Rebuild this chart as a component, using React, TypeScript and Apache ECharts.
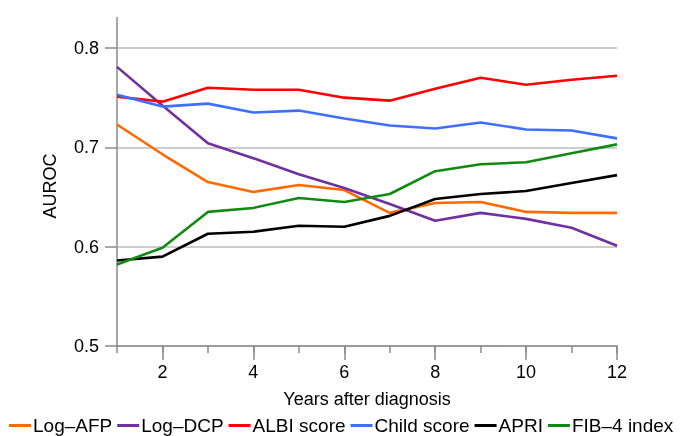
import React, { useEffect, useRef } from "react";
import * as echarts from "echarts";

const years = [1, 2, 3, 4, 5, 6, 7, 8, 9, 10, 11, 12];
const seriesNames = ["Log–AFP", "Log–DCP", "ALBI score", "Child score", "APRI", "FIB–4 index"];
const logAFP = [0.723, 0.693, 0.665, 0.655, 0.662, 0.657, 0.634, 0.644, 0.645, 0.635, 0.634, 0.634];
const logDCP = [0.781, 0.742, 0.704, 0.689, 0.673, 0.659, 0.643, 0.626, 0.634, 0.628, 0.619, 0.601];
const albi = [0.751, 0.746, 0.760, 0.758, 0.758, 0.750, 0.747, 0.759, 0.770, 0.763, 0.768, 0.772];
const child = [0.753, 0.741, 0.744, 0.735, 0.737, 0.729, 0.722, 0.719, 0.725, 0.718, 0.717, 0.709];
const apri = [0.586, 0.590, 0.613, 0.615, 0.621, 0.620, 0.631, 0.648, 0.653, 0.656, 0.664, 0.672];
const fib4 = [0.582, 0.599, 0.635, 0.639, 0.649, 0.645, 0.653, 0.676, 0.683, 0.685, 0.694, 0.703];
const colors = ["#ff6a00", "#7030a0", "#ff0000", "#3f6fff", "#000000", "#108a10"];
const yTicks = [0.5, 0.6, 0.7, 0.8];

const FONT = "Liberation Sans, Arial, Helvetica, sans-serif";

export default function App() {
  const ref = useRef<HTMLDivElement>(null);
  useEffect(() => {
    if (!ref.current) return;
    const chart = echarts.init(ref.current, undefined, { renderer: "svg" });
    const all = [logAFP, logDCP, albi, child, apri, fib4];
    const axisColor = "#8a8a8a";
    chart.setOption({
      animation: false,
      textStyle: { fontFamily: FONT },
      grid: { left: 117, right: 63, top: 48, bottom: 90 },
      legend: {
        left: 9,
        top: 416,
        width: 900,
        padding: 0,
        icon: "rect",
        itemWidth: 22,
        itemHeight: 3,
        itemGap: 5,
        textStyle: { fontSize: 19, color: "#000", fontFamily: FONT, padding: [0, 0, 0, -3] },
        data: seriesNames,
      },
      xAxis: [
        {
          type: "value",
          min: 1,
          max: 12,
          interval: 1,
          name: "Years after diagnosis",
          nameLocation: "middle",
          nameGap: 44,
          nameTextStyle: { fontSize: 18, color: "#000", fontFamily: FONT },
          axisLine: { lineStyle: { color: axisColor, width: 1.5 } },
          axisTick: { length: 7, lineStyle: { color: axisColor, width: 1.5 } },
          axisLabel: {
            fontSize: 18,
            color: "#000",
            margin: 17,
            fontFamily: FONT,
            formatter: (v: number) => (v % 2 === 0 ? String(v) : ""),
          },
          splitLine: { show: false },
        },
        {
          type: "category",
          data: years.map(String),
          boundaryGap: false,
          position: "bottom",
          axisLine: { show: false },
          axisTick: {
            length: 14,
            interval: (i: number) => i % 2 === 1,
            lineStyle: { color: axisColor, width: 1.5 },
          },
          axisLabel: { show: false },
          splitLine: { show: false },
        },
      ],
      yAxis: {
        type: "value",
        min: yTicks[0],
        max: yTicks[yTicks.length - 1],
        interval: 0.1,
        name: "AUROC",
        nameLocation: "middle",
        nameGap: 58,
        nameTextStyle: { fontSize: 18, color: "#000", fontFamily: FONT, padding: [0, 0, 0, 22] },
        axisLine: { show: true, lineStyle: { color: axisColor, width: 1.5 } },
        axisTick: { show: true, length: 12, lineStyle: { color: axisColor, width: 1.5 } },
        axisLabel: { fontSize: 18, color: "#000", margin: 18, fontFamily: FONT, formatter: (v: number) => v.toFixed(1) },
        splitLine: { show: true, lineStyle: { color: "#bdbdbd", width: 1.5 } },
      },
      graphic: [
        {
          type: "line",
          shape: { x1: 117, y1: 17, x2: 117, y2: 48 },
          style: { stroke: axisColor, lineWidth: 1.5 },
          z: 10,
        },
      ],
      series: all.map((arr, i) => ({
        name: seriesNames[i],
        type: "line",
        xAxisIndex: 0,
        symbol: "none",
        data: years.map((y, j) => [y, arr[j]]),
        lineStyle: { color: colors[i], width: 2.6 },
        itemStyle: { color: colors[i] },
        z: 3 + i,
      })),
    });
    return () => chart.dispose();
  }, []);
  return (
    <div
      ref={ref}
      style={{ position: "fixed", left: 0, top: 0, width: 680, height: 436 }}
    />
  );
}
